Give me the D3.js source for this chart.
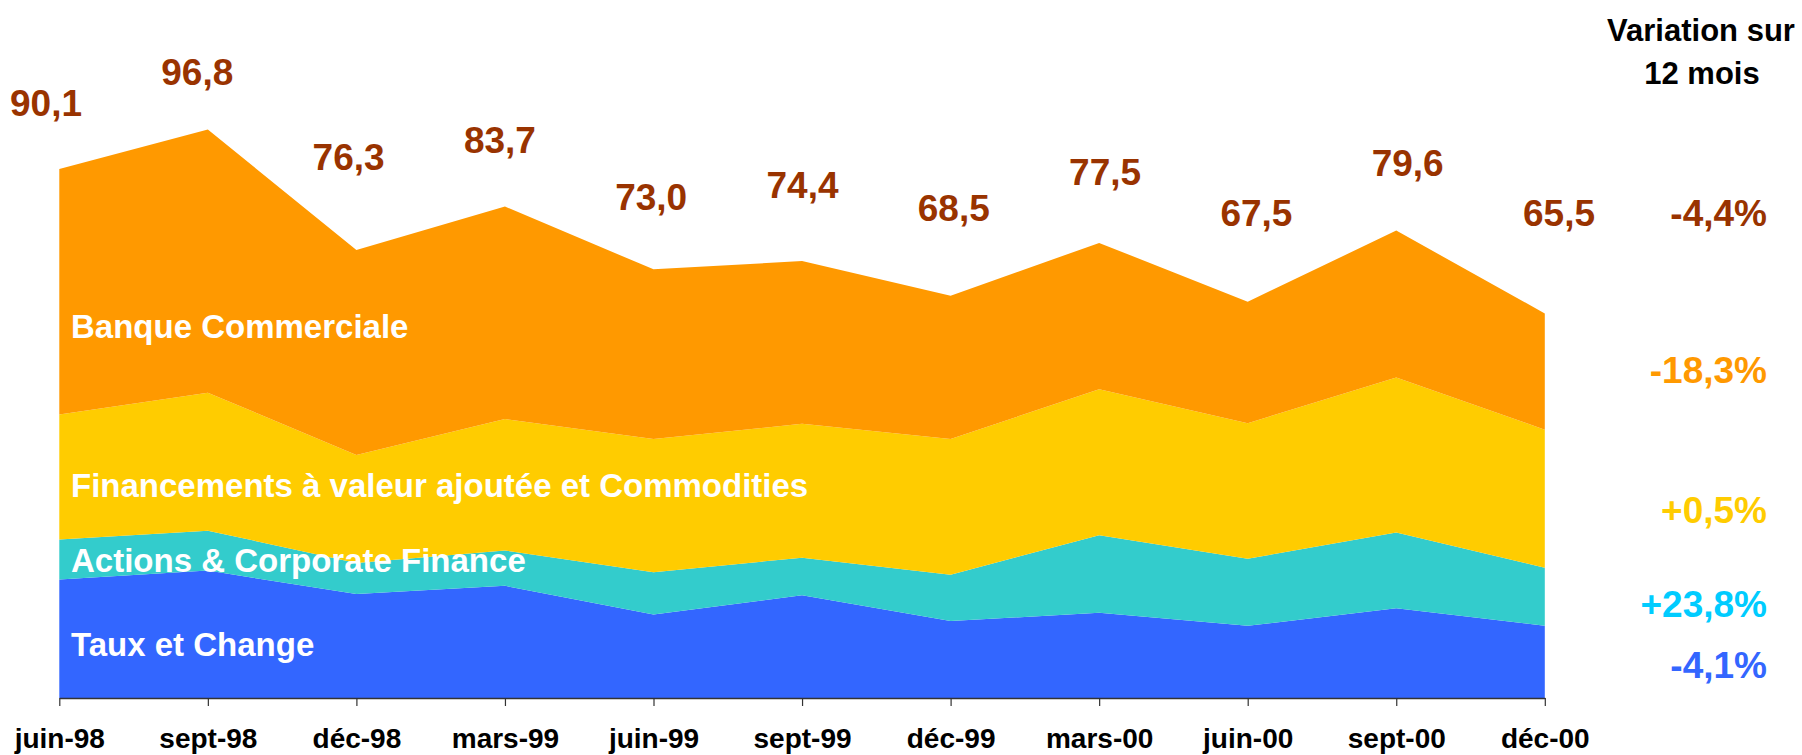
<!DOCTYPE html>
<html>
<head>
<meta charset="utf-8">
<script src="https://cdn.jsdelivr.net/npm/d3@7"></script>
<style>
  body { margin: 0; background: #fff; }
  text { font-family: "Liberation Sans", Arial, sans-serif; font-weight: bold; }
</style>
</head>
<body>
<div id="chart"></div>
<script>
// Data (milliards, stacked)
const periods = ["juin-98", "sept-98", "déc-98", "mars-99", "juin-99", "sept-99",
                 "déc-99", "mars-00", "juin-00", "sept-00", "déc-00"];
const tauxChange   = [20.2, 21.7, 17.7, 19.1, 14.2, 17.5, 13.1, 14.5, 12.3, 15.3, 12.3];
const actionsCorpo = [6.8, 6.8, 5.3, 6.0, 7.2, 6.4, 7.9, 13.2, 11.4, 12.9, 9.9];
const financements = [21.3, 23.5, 18.4, 22.4, 22.7, 22.8, 23.1, 24.9, 23.1, 26.4, 23.5];
const banqueCom    = [41.8, 44.8, 34.9, 36.2, 28.9, 27.7, 24.4, 24.9, 20.7, 25.0, 19.8];
const totals       = [90.1, 96.8, 76.3, 83.7, 73.0, 74.4, 68.5, 77.5, 67.5, 79.6, 65.5];

const seriesNames = ["Taux et Change", "Actions & Corporate Finance",
                     "Financements à valeur ajoutée et Commodities", "Banque Commerciale"];
const variations  = ["-4,4%", "-18,3%", "+0,5%", "+23,8%", "-4,1%"];

// Chart setup
const width = 1802, height = 755;
const colors = ["#3366FF", "#33CCCC", "#FFCC00", "#FF9900"];
const varColors = ["#993300", "#FF9900", "#FFCC00", "#00CCFF", "#3366FF"];

const svg = d3.select("#chart")
    .append("svg")
    .attr("width", width)
    .attr("height", height);

const xScale = d3.scalePoint()
    .domain(periods)
    .range([59.3, 1544.8]);

const yScale = d3.scaleLinear()
    .domain([0, 100])
    .range([698, 110.8]);

// build table for the stack
const table = periods.map((p, i) => ({
    period: p,
    s0: tauxChange[i],
    s1: actionsCorpo[i],
    s2: financements[i],
    s3: banqueCom[i]
}));

const stacked = d3.stack().keys(["s0", "s1", "s2", "s3"])(table);

const area = d3.area()
    .x(d => xScale(d.data.period))
    .y0(d => yScale(d[0]))
    .y1(d => yScale(d[1]));

svg.selectAll(".layer")
    .data(stacked)
    .enter()
    .append("path")
    .attr("class", "layer")
    .attr("d", area)
    .attr("fill", (d, i) => colors[i]);

// x axis
const xAxis = svg.append("g")
    .attr("transform", `translate(0, ${yScale(0)})`)
    .call(d3.axisBottom(xScale).tickSize(8).tickSizeOuter(0));

xAxis.select(".domain").attr("stroke", "#333").attr("stroke-width", 1.5);
xAxis.selectAll(".tick line").attr("stroke", "#333").attr("stroke-width", 1.2);
xAxis.selectAll(".tick text")
    .attr("y", 50)
    .attr("dy", null)
    .attr("fill", "#000")
    .style("font-size", "28px")
    .style("font-family", "'Liberation Sans', Arial, sans-serif")
    .style("font-weight", "bold");

// series labels inside the areas
const seriesLabelY = [656, 571.7, 496.7, 338.3];
svg.selectAll(".series-label")
    .data(seriesNames)
    .enter()
    .append("text")
    .attr("class", "series-label")
    .attr("x", 71)
    .attr("y", (d, i) => seriesLabelY[i])
    .attr("fill", "#fff")
    .style("font-size", "33px")
    .text(d => d);

// totals above the stack (placed by hand in the original, so nudged per point)
const labelX = d3.scalePoint().domain(periods).range([46, 1559]);
const labelLift = [52.6, 44.3, 80, 53.4, 59.4, 62.7, 74.6, 58.4, 75.7, 55, 87.3];
const fmt = v => v.toFixed(1).replace(".", ",");

svg.selectAll(".total")
    .data(totals)
    .enter()
    .append("text")
    .attr("class", "total")
    .attr("x", (d, i) => labelX(periods[i]))
    .attr("y", (d, i) => yScale(d) - labelLift[i])
    .attr("text-anchor", "middle")
    .attr("fill", "#993300")
    .style("font-size", "37px")
    .text(d => fmt(d));

// variation column
svg.append("text")
    .attr("x", 1701)
    .attr("y", 40.7)
    .attr("text-anchor", "middle")
    .attr("fill", "#000")
    .style("font-size", "31px")
    .text("Variation sur");

svg.append("text")
    .attr("x", 1702)
    .attr("y", 84)
    .attr("text-anchor", "middle")
    .attr("fill", "#000")
    .style("font-size", "31px")
    .text("12 mois");

const variationY = [225.7, 383.3, 523.3, 616.7, 678.3];
svg.selectAll(".variation")
    .data(variations)
    .enter()
    .append("text")
    .attr("class", "variation")
    .attr("x", 1767)
    .attr("y", (d, i) => variationY[i])
    .attr("text-anchor", "end")
    .attr("fill", (d, i) => varColors[i])
    .style("font-size", "37px")
    .text(d => d);
</script>
</body>
</html>
